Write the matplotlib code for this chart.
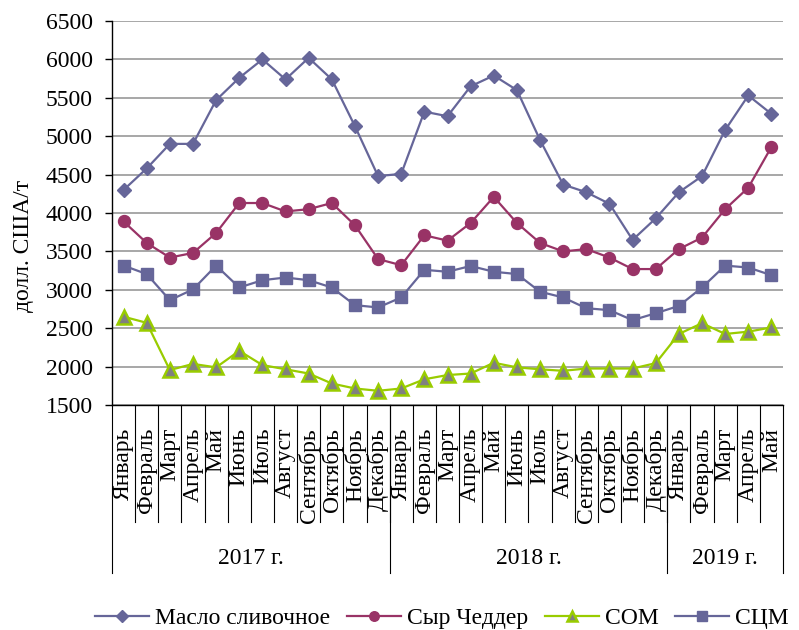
"""Цены на молочную продукцию, 2017-2019"""
import matplotlib
matplotlib.use('Agg')
import matplotlib.pyplot as plt
import matplotlib.transforms as mtransforms
from matplotlib.lines import Line2D
import numpy as np

plt.rcParams['font.family'] = ['Liberation Serif', 'DejaVu Serif']

# данные
months = ['Январь', 'Февраль', 'Март', 'Апрель', 'Май', 'Июнь', 'Июль',
          'Август', 'Сентябрь', 'Октябрь', 'Ноябрь', 'Декабрь',
          'Январь', 'Февраль', 'Март', 'Апрель', 'Май', 'Июнь', 'Июль',
          'Август', 'Сентябрь', 'Октябрь', 'Ноябрь', 'Декабрь',
          'Январь', 'Февраль', 'Март', 'Апрель', 'Май']
years = ['2017 г.', '2018 г.', '2019 г.']
year_sizes = [12, 12, 5]

butter = [4300, 4580, 4900, 4900, 5470, 5760, 6000, 5740, 6020, 5740, 5130, 4480,
          4510, 5320, 5260, 5650, 5790, 5600, 4950, 4370, 4270, 4120, 3650, 3930,
          4270, 4480, 5080, 5530, 5290]
cheddar = [3890, 3610, 3420, 3480, 3740, 4130, 4130, 4020, 4050, 4130, 3840, 3400,
           3320, 3710, 3640, 3870, 4210, 3870, 3610, 3500, 3530, 3420, 3270, 3270,
           3530, 3680, 4050, 4330, 4860]
som = [2650, 2570, 1955, 2035, 1990, 2205, 2020, 1965, 1910, 1780, 1715, 1685,
       1715, 1835, 1890, 1910, 2050, 1990, 1965, 1945, 1975, 1975, 1975, 2045,
       2425, 2565, 2425, 2455, 2510]
scm = [3315, 3205, 2865, 3005, 3315, 3030, 3125, 3160, 3125, 3030, 2800, 2770,
       2900, 3260, 3235, 3310, 3235, 3205, 2975, 2900, 2760, 2735, 2605, 2695,
       2790, 3030, 3315, 3290, 3190]

W, H = 799, 630
fig = plt.figure(figsize=(W / 100, H / 100), dpi=100)
ax = fig.add_axes([112 / W, (H - 405) / H, 671 / W, 384 / H])

n = len(months)
x = np.arange(n) + 0.5
FS = 17

ax.plot(x, butter, color='#666699', lw=1.6, marker='D', ms=7.6,
        label='Масло сливочное', zorder=3)
ax.plot(x, cheddar, color='#993366', lw=1.6, marker='o', ms=8.6,
        label='Сыр Чеддер', zorder=3)
ax.plot(x, som, color='#99cc00', lw=1.6, marker='^', ms=9.5, mfc='#808080',
        mec='#99cc00', mew=1.8, label='СОМ', zorder=3)
ax.plot(x, scm, color='#666699', lw=1.6, marker='s', ms=9, label='СЦМ', zorder=3)

ax.set_xlim(0, n)
ax.set_ylim(1500, 6500)
ax.set_yticks(range(1500, 6501, 500))
ax.yaxis.grid(True, color='#a0a0a0', lw=1.3)
ax.set_axisbelow(True)
ax.set_xticks([])
for s in ['top', 'right']:
    ax.spines[s].set_visible(False)
for s in ['left', 'bottom']:
    ax.spines[s].set_color('black')
    ax.spines[s].set_linewidth(1.0)
ax.tick_params(axis='y', length=5, width=1, pad=9, labelsize=FS)

# многоуровневая ось категорий
trans = mtransforms.blended_transform_factory(ax.transData, fig.transFigure)

def fy(py):
    return 1 - py / H

for i, m in enumerate(months):
    ax.text(x[i], fy(428), m, transform=trans, rotation=90, ha='center',
            va='top', fontsize=FS)
for b in range(1, n):
    ax.add_line(Line2D([b, b], [fy(405), fy(522)], transform=trans,
                       color='black', lw=0.8, clip_on=False))
start = 0
bounds = [0]
for yname, size in zip(years, year_sizes):
    ax.text(start + size / 2, fy(558), yname, transform=trans, ha='center',
            va='center', fontsize=FS)
    start += size
    bounds.append(start)
for b in bounds:
    ax.add_line(Line2D([b, b], [fy(405), fy(573)], transform=trans,
                       color='black', lw=0.8, clip_on=False))

fig.text(23 / W, fy(246), 'долл. США/т', rotation=90, ha='center',
         va='center', fontsize=FS)

fig.legend(loc='center', bbox_to_anchor=(0.553, fy(618)), ncol=4,
           frameon=False, fontsize=FS, handlelength=2.3, handletextpad=0.25,
           columnspacing=0.7, markerscale=0.8)

fig.savefig('out.png', dpi=100)
plt.close()
